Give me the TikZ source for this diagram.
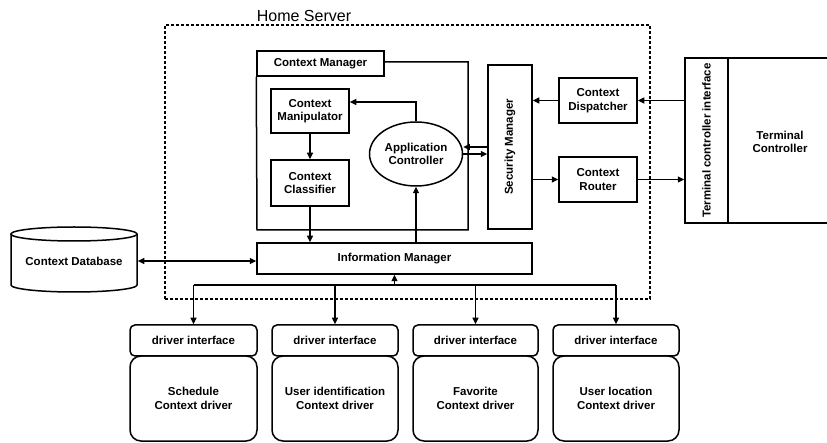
\documentclass[tikz,border=0pt]{standalone}
\usepackage{fontspec}
\setmainfont{Liberation Sans}
\usetikzlibrary{arrows.meta,shapes.geometric}
\begin{document}
\begin{tikzpicture}[x=1pt,y=-1pt,
  line width=1.5pt,
  lbl/.style={font=\fontsize{11.5}{13.5}\selectfont\bfseries, align=center, inner sep=0pt},
  box/.style={lbl, draw, rectangle},
  ifbox/.style={box, rounded corners=5pt, minimum height=31pt},
  drvbox/.style={box, rounded corners=11pt, minimum height=85pt},
  arr/.style={-{Triangle[length=6.5pt,width=6pt]}},
  arr2/.style={{Triangle[length=6.5pt,width=6pt]}-{Triangle[length=6.5pt,width=6pt]}},
  homebox/.style={draw, dash pattern=on 3pt off 2pt, line width=1.2pt, inner sep=0pt}
  ]
\useasboundingbox (0,0) rectangle (827,443);

% Home server boundary
\node[homebox, minimum width=485pt, minimum height=274pt] (home) at (407.5,162) {};
\node[font=\fontsize{16}{18}\selectfont, inner sep=0pt] (homelbl) at (304,16) {Home Server};

% Context manager with its tab
\node[box, minimum width=127pt, minimum height=25pt] (cmtab) at (320.5,63.5) {Context Manager};
\draw (cmtab.east |- 0,62) -- (468,62) -- (468,230) -- (257,230) -- (cmtab.south west);

\node[box, minimum width=78pt, minimum height=44pt] (manip) at (310,111) {Context\\Manipulator};
\node[box, minimum width=78pt, minimum height=46pt] (classif) at (310,183) {Context\\Classifier};
\node[lbl, draw, ellipse, minimum width=93pt, minimum height=64pt] (appctl) at (416,154) {Application\\Controller};

% Security manager
\node[box, minimum width=44pt, minimum height=164pt] (sec) at (510,147) {};
\node[lbl, rotate=90] (seclbl) at (sec) {Security Manager};

\node[box, minimum width=78pt, minimum height=45pt] (dispatch) at (598,100.5) {Context\\Dispatcher};
\node[box, minimum width=78pt, minimum height=45pt] (router) at (598,179.5) {Context\\Router};

% Terminal controller side
\node[box, minimum width=43pt, minimum height=165pt] (tci) at (706.5,140.5) {};
\node[lbl, rotate=90] (tcilbl) at (tci) {Terminal controller interface};
\node[box, minimum width=110pt, minimum height=165pt] (tc) at (783,140.5) {};
\node[lbl] (tclbl) at (780,142) {Terminal\\Controller};

% Information manager and database
\node[box, minimum width=275pt, minimum height=31pt] (info) at (394.5,258.5) {Information Manager};
\node[lbl, minimum width=126pt, minimum height=65pt] (db) at (74,261) {Context Database};
\draw (74,234) ellipse [x radius=63pt, y radius=7pt];
\draw (11,234) -- (11,285) arc [start angle=180, end angle=360, x radius=63pt, y radius=7pt] -- (137,234);

% Context drivers
\node[ifbox, minimum width=127pt] (di1) at (193.5,340.5) {driver interface};
\node[ifbox, minimum width=126pt] (di2) at (335,340.5) {driver interface};
\node[ifbox, minimum width=125pt] (di3) at (475.5,340.5) {driver interface};
\node[ifbox, minimum width=126pt] (di4) at (616,340.5) {driver interface};
\node[drvbox, minimum width=127pt] (dr1) at (193.5,398.5) {Schedule\\Context driver};
\node[drvbox, minimum width=126pt] (dr2) at (335,398.5) {User identification\\Context driver};
\node[drvbox, minimum width=125pt] (dr3) at (475.5,398.5) {Favorite\\Context driver};
\node[drvbox, minimum width=126pt] (dr4) at (616,398.5) {User location\\Context driver};

% Connectors inside the context manager
\draw[arr] (manip.south) -- (classif.north);
\draw[arr] (classif.south) -- (classif.south |- info.north);
\draw[arr] (appctl.south |- info.north) -- (appctl.south);
\draw[arr] (appctl.north) |- ([yshift=9pt]manip.east);

% Application controller <-> security manager
\draw[arr] (sec.west) -- (sec.west -| appctl.east);
\draw[arr] (appctl.east) -- (appctl.east -| sec.west);

% Dispatcher / router paths
\draw[arr] (dispatch.west) -- (dispatch.west -| sec.east);
\draw[arr] (router.west -| sec.east) -- (router.west);
\draw[arr] (dispatch.east -| tci.west) -- (dispatch.east);
\draw[arr] (router.east) -- (router.east -| tci.west);

% Database link
\draw[arr2] (db.east) -- (db.east -| info.west);

% Driver bus
\coordinate (bus) at (394.5,285);
\draw (di1.north |- bus) -- (di4.north |- bus);
\draw[arr] (bus) -- (info.south);
\foreach \i in {1,...,4} {
  \draw[arr] (di\i.north |- bus) -- (di\i.north);
}
\end{tikzpicture}
\end{document}
